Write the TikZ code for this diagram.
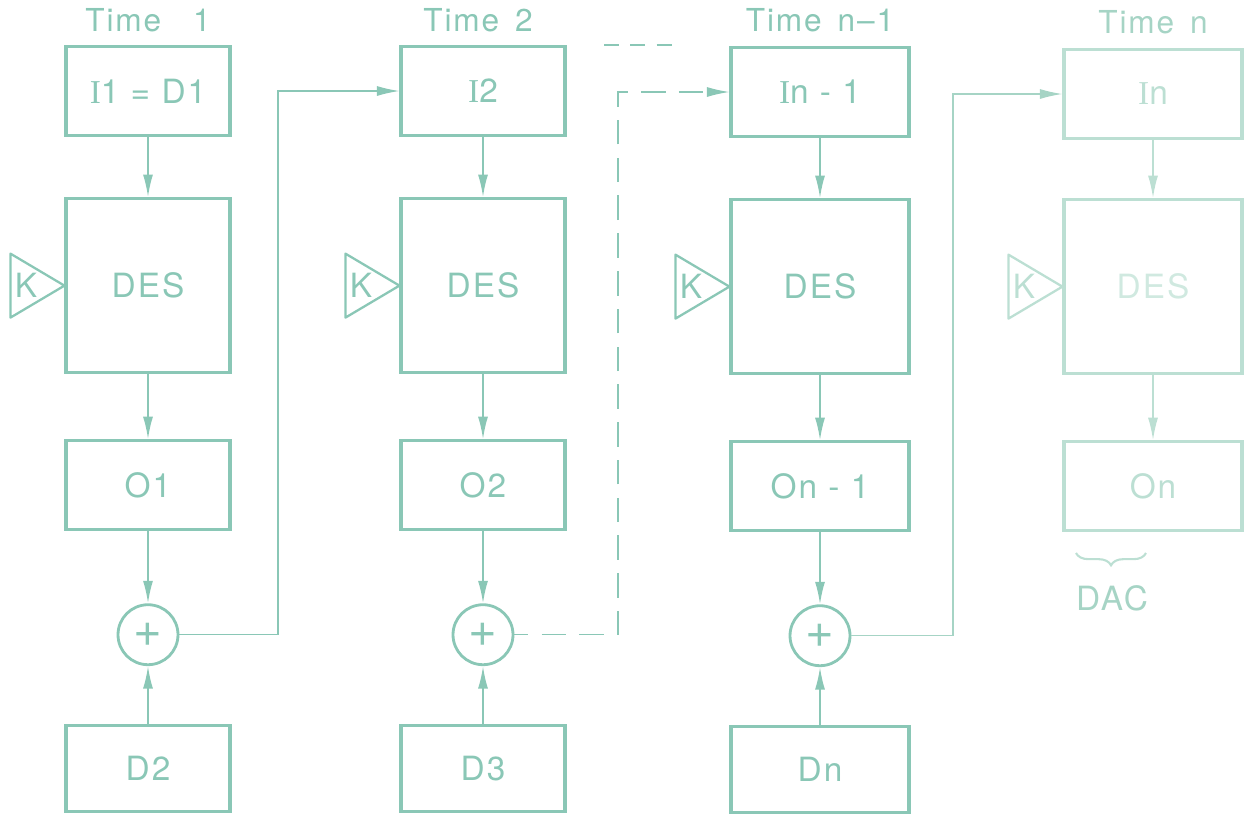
\documentclass[tikz,border=0pt]{standalone}
\usepackage{fontspec}
\setmainfont{TeX Gyre Heros}[LetterSpace=6]
\newfontfamily\serifface{Liberation Serif}
\usetikzlibrary{arrows.meta, positioning, decorations.pathreplacing}
\definecolor{ink}{RGB}{138,199,182}
\definecolor{faded}{RGB}{188,223,211}
\definecolor{pale}{RGB}{166,212,197}
\newcommand{\serifI}{{\serifface I}}

\begin{document}
\begin{tikzpicture}[
    x=0.02cm, y=-0.02cm,
    every node/.style={font=\fontsize{19}{22}\selectfont, text=ink},
    box/.style={draw=ink, line width=1.8pt, minimum width=3.28cm, minimum height=1.78cm, inner sep=0},
    widebox/.style={box, minimum width=3.56cm},
    desbox/.style={minimum height=3.48cm},
    adder/.style={circle, draw=ink, line width=1.6pt, minimum size=1.2cm, inner sep=0,
        font=\fontsize{28}{28}\selectfont},
    keyline/.style={draw=ink, line width=1.3pt, line join=round},
    title/.style={inner sep=0, font=\fontsize{18}{21}\selectfont},
    arrow/.style={-{Latex[length=4.5mm, width=2mm]}, draw=ink, line width=1pt},
    feed/.style={arrow, line width=0.8pt},
    dashfeed/.style={feed, dash pattern=on 14pt off 7.5pt, dash phase=6pt}
]
    \useasboundingbox (0,0) rectangle (1250,819);

    % Time 1
    \node (in1) [box] at (148,91) {\serifI1 = D1};
    \node (des1) [box, desbox, below=1.2cm of in1] {DES};
    \node (out1) [box, below=1.3cm of des1] {O1};
    \node (add1) [adder, below=1.44cm of out1] {+};
    \node (d2) [box, minimum height=1.72cm, below=1.16cm of add1] {D2};
    \node (t1) [title, above=0.26cm of in1] {Time\enspace\, 1};
    \draw [keyline] (des1.west) -- ++(-54,-32) -- ++(0,64) -- cycle;
    \node (key1) [inner sep=0, left=0.54cm of des1.west] {K};

    \draw [arrow] (in1) -- (des1);
    \draw [arrow] (des1) -- (out1);
    \draw [arrow] (out1) -- (add1);
    \draw [arrow] (d2) -- (add1);

    % Time 2
    \node (in2) [box] at (483,91) {\serifI2};
    \node (des2) [box, desbox, below=1.2cm of in2] {DES};
    \node (out2) [box, below=1.3cm of des2] {O2};
    \node (add2) [adder, below=1.44cm of out2] {+};
    \node (d3) [box, minimum height=1.72cm, below=1.16cm of add2] {D3};
    \node (t2) [title, above=0.26cm of in2, xshift=-0.1cm] {Time\enspace 2};
    \draw [keyline] (des2.west) -- ++(-54,-32) -- ++(0,64) -- cycle;
    \node (key2) [inner sep=0, left=0.54cm of des2.west] {K};

    \draw [arrow] (in2) -- (des2);
    \draw [arrow] (des2) -- (out2);
    \draw [arrow] (out2) -- (add2);
    \draw [arrow] (d3) -- (add2);

    % Time n-1
    \node (in3) [widebox] at (820,92) {\serifI n - 1};
    \node (des3) [widebox, desbox, below=1.2cm of in3] {DES};
    \node (out3) [widebox, below=1.3cm of des3] {On - 1};
    \node (add3) [adder, below=1.44cm of out3] {+};
    \node (dn) [widebox, minimum height=1.72cm, below=1.16cm of add3] {Dn};
    \node (t3) [title, above=0.28cm of in3] {Time\enspace n--1};
    \draw [keyline] (des3.west) -- ++(-54,-32) -- ++(0,64) -- cycle;
    \node (key3) [inner sep=0, left=0.54cm of des3.west] {K};

    \draw [arrow] (in3) -- (des3);
    \draw [arrow] (des3) -- (out3);
    \draw [arrow] (out3) -- (add3);
    \draw [arrow] (dn) -- (add3);

    % Time n (faint in the original)
    \begin{scope}
        \colorlet{ink}{faded}
        \node (in4) [widebox] at (1153,94) {\serifI n};
        \node (des4) [widebox, desbox, below=1.16cm of in4, text=faded!70] {DES};
        \node (out4) [widebox, below=1.3cm of des4] {On};
        \node (t4) [title, above=0.28cm of in4, text=pale] {Time\enspace n};
        \draw [keyline] (des4.west) -- ++(-54,-32) -- ++(0,64) -- cycle;
        \node (key4) [inner sep=0, left=0.54cm of des4.west] {K};

        \draw [arrow] (in4) -- (des4);
        \draw [arrow] (des4) -- (out4);

        \coordinate (dacL) at (1076,553);
        \coordinate (dacR) at (1146,553);
        \draw [ink, line width=1.2pt, decorate, decoration={brace, mirror, amplitude=7pt}] (dacL) -- (dacR);
        \node (dac) [text=pale] at (1112,598) {DAC};
    \end{scope}

    % carry from one time to the next
    \coordinate (bend1) at (278,91);
    \coordinate (bend2) at (618,92);
    \coordinate (bend3) at (953,94);
    \draw [feed] (add1.east) -| (bend1) -- (in2.west);
    \draw [dashfeed] (add2.east) -| (bend2) -- (in3.west);
    \draw [feed, draw=pale] (add3.east) -| (bend3) -- (in4.west);

    % skipped steps
    \coordinate (skipL) at (604,45);
    \coordinate (skipR) at (680,45);
    \draw [ink, line width=1pt, dash pattern=on 8.5pt off 6.5pt] (skipL) -- (skipR);
\end{tikzpicture}
\end{document}
